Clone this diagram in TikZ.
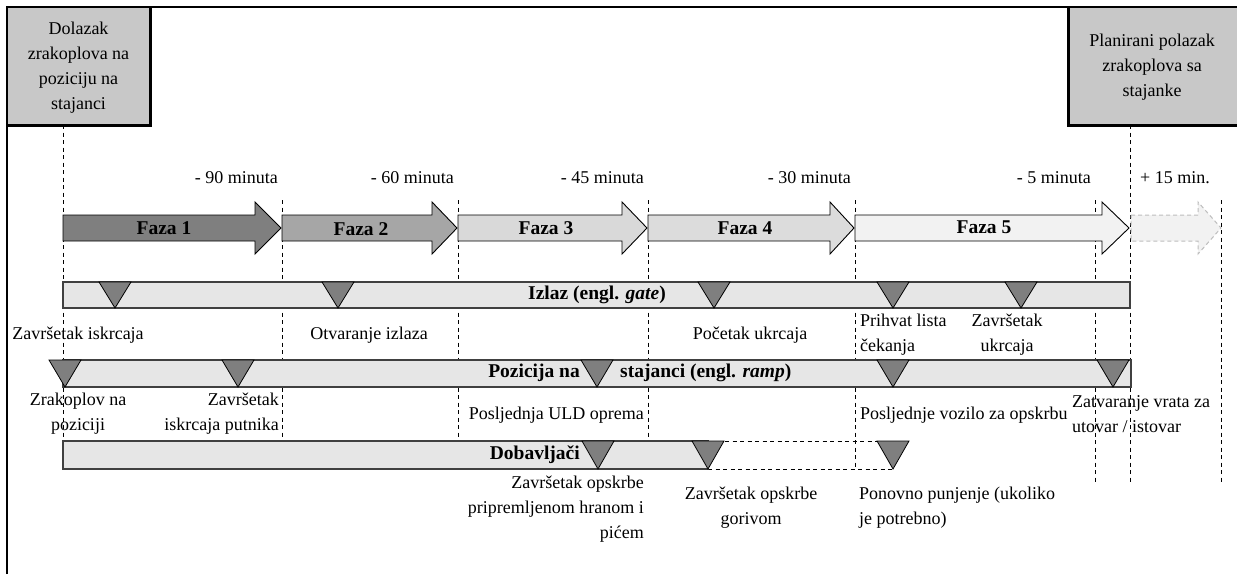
\documentclass[tikz,border=0pt]{standalone}
\usepackage{fontspec}
\setmainfont{Liberation Serif}
\definecolor{boxfill}{HTML}{C8C8C8}
\definecolor{barfill}{HTML}{E6E6E6}
\definecolor{bardraw}{HTML}{404040}
\definecolor{trifill}{HTML}{7F7F7F}
\definecolor{ph1}{HTML}{7F7F7F}
\definecolor{ph2}{HTML}{A6A6A6}
\definecolor{ph3}{HTML}{D9D9D9}
\definecolor{ph4}{HTML}{DCDCDC}
\definecolor{ph5}{HTML}{F2F2F2}
\definecolor{ghostdraw}{HTML}{BDBDBD}
\newcommand\phasearrow[4]{\draw[#4] (#1,215) -- (#2,215) -- (#2,202) -- (#3,228) -- (#2,254) -- (#2,241) -- (#1,241) -- cycle;}
\newcommand\downtri[3]{\draw[tri] ({#1-16},#2) -- ({#1+16},#2) -- (#1,#3) -- cycle;}
\tikzset{
  txt/.style={inner sep=0pt, font=\fontsize{18}{25}\selectfont},
  boldtxt/.style={inner sep=0pt, font=\fontsize{19.5}{24}\selectfont\bfseries},
  guide/.style={draw=black, dash pattern=on 4pt off 3.5pt, line width=0.9pt},
  bar/.style={fill=barfill, draw=bardraw, line width=1.3pt},
  tri/.style={fill=trifill, draw=black, line width=0.8pt},
  phase/.style={draw=black, line width=0.9pt},
  ghost/.style={draw=ghostdraw, fill=ph5, dash pattern=on 4pt off 3pt, line width=1pt},
}
\begin{document}
\begin{tikzpicture}[x=1pt, y=-1pt]
\useasboundingbox (0,0) rectangle (1237,574);
% frame
\draw[line width=1.5pt] (7,574) -- (7,7) -- (1237,7);
% top boxes
\fill[boxfill] (7,7) rectangle (150,125);
\draw[line width=0.8pt] (7,7) rectangle (150,125);
\draw[line width=3pt] (150,6) -- (150,125) -- (7,125);
\node[txt, align=center] (arr) at (78.5,68) {\fontsize{18}{26.7}\selectfont Dolazak\\zrakoplova na\\poziciju na\\stajanci};
\fill[boxfill] (1068,7) rectangle (1237,125);
\draw[line width=0.8pt] (1068,7) rectangle (1237,125);
\draw[line width=3pt] (1068,6) -- (1068,125) -- (1237,125);
\node[txt, align=center] (dep) at (1152,67) {\fontsize{18}{27}\selectfont Planirani polazak\\zrakoplova sa\\stajanke};
% guides
\draw[guide] (63,125) -- (63,441);
\draw[guide] (282,200) -- (282,441);
\draw[guide] (458,200) -- (458,441);
\draw[guide] (648,200) -- (648,441);
\draw[guide] (855,200) -- (855,469);
\draw[guide] (1095,200) -- (1095,483);
\draw[guide] (1130,125) -- (1130,483);
\draw[guide] (1221,200) -- (1221,483);
% time labels
\node[txt, anchor=east] (t90) at (278,178) {- 90 minuta};
\node[txt, anchor=east] (t60) at (454,178) {- 60 minuta};
\node[txt, anchor=east] (t45) at (644,178) {- 45 minuta};
\node[txt, anchor=east] (t30) at (851,178) {- 30 minuta};
\node[txt, anchor=east] (t5) at (1091,178) {- 5 minuta};
\node[txt, anchor=west] (t15) at (1140,178) {+ 15 min.};
% phase arrows
\phasearrow{63}{255}{281}{phase, fill=ph1}
\phasearrow{282}{432}{457}{phase, fill=ph2}
\phasearrow{458}{622}{647}{phase, fill=ph3}
\phasearrow{648}{830}{854}{phase, fill=ph4}
\phasearrow{855}{1102}{1129}{phase, fill=ph5}
\phasearrow{1131}{1198}{1221}{ghost}
\node[boldtxt] (f1) at (164,228) {Faza 1};
\node[boldtxt] (f2) at (361,229) {Faza 2};
\node[boldtxt] (f3) at (546,228) {Faza 3};
\node[boldtxt] (f4) at (745,228) {Faza 4};
\node[boldtxt] (f5) at (984,227) {Faza 5};
% gate bar
\draw[bar] (63,282) rectangle (1130,308);
\foreach \p in {115,338,714,893,1021} {\downtri{\p}{282}{308}}
\node[boldtxt] (gate) at (597,295) {Izlaz (engl. \textit{gate})};
\node[txt] (g1) at (78,335) {Završetak iskrcaja};
\node[txt] (g2) at (369,335) {Otvaranje izlaza};
\node[txt] (g3) at (750,335) {Početak ukrcaja};
\node[txt, align=left, anchor=west] (g4) at (860,335) {\fontsize{18}{24}\selectfont Prihvat lista\\čekanja};
\node[txt, align=center] (g5) at (1007,335) {\fontsize{18}{24}\selectfont Završetak\\ukrcaja};
% ramp bar
\draw[bar] (63,360) rectangle (1131,387);
\foreach \p in {65,238,597,893,1113} {\downtri{\p}{360}{387}}
\node[boldtxt, anchor=east] (ramp1) at (580,373) {Pozicija na};
\node[boldtxt, anchor=west] (ramp2) at (620,373) {stajanci (engl. \textit{ramp})};
\node[txt, align=center] (r1) at (78,414) {Zrakoplov na\\poziciji};
\node[txt, align=right, anchor=east] (r2) at (279,414) {Završetak\\iskrcaja putnika};
\node[txt, anchor=east] (r3) at (644,415) {Posljednja ULD oprema};
\node[txt, anchor=west] (r4) at (860,415) {Posljednje vozilo za opskrbu};
\node[txt, align=left, anchor=west] (r5) at (1072,414) {Zatvaranje vrata za\\utovar / istovar};
% suppliers bar
\draw[guide] (725,441) -- (877,441);
\draw[guide] (708,469) -- (893,469);
\draw[bar] (63,441) rectangle (708,469);
\foreach \p in {598,708,893} {\downtri{\p}{441}{469}}
\node[boldtxt, anchor=east] (sup) at (580,455) {Dobavljači};
\node[txt, align=right, anchor=east] (s1) at (644,509) {\fontsize{18}{24}\selectfont Završetak opskrbe\\pripremljenom hranom i\\pićem};
\node[txt, align=center] (s2) at (751,508) {\fontsize{18}{23}\selectfont Završetak opskrbe\\gorivom};
\node[txt, align=left, anchor=west] (s3) at (859,508) {\fontsize{18}{23}\selectfont Ponovno punjenje (ukoliko\\je potrebno)};
\end{tikzpicture}
\end{document}
